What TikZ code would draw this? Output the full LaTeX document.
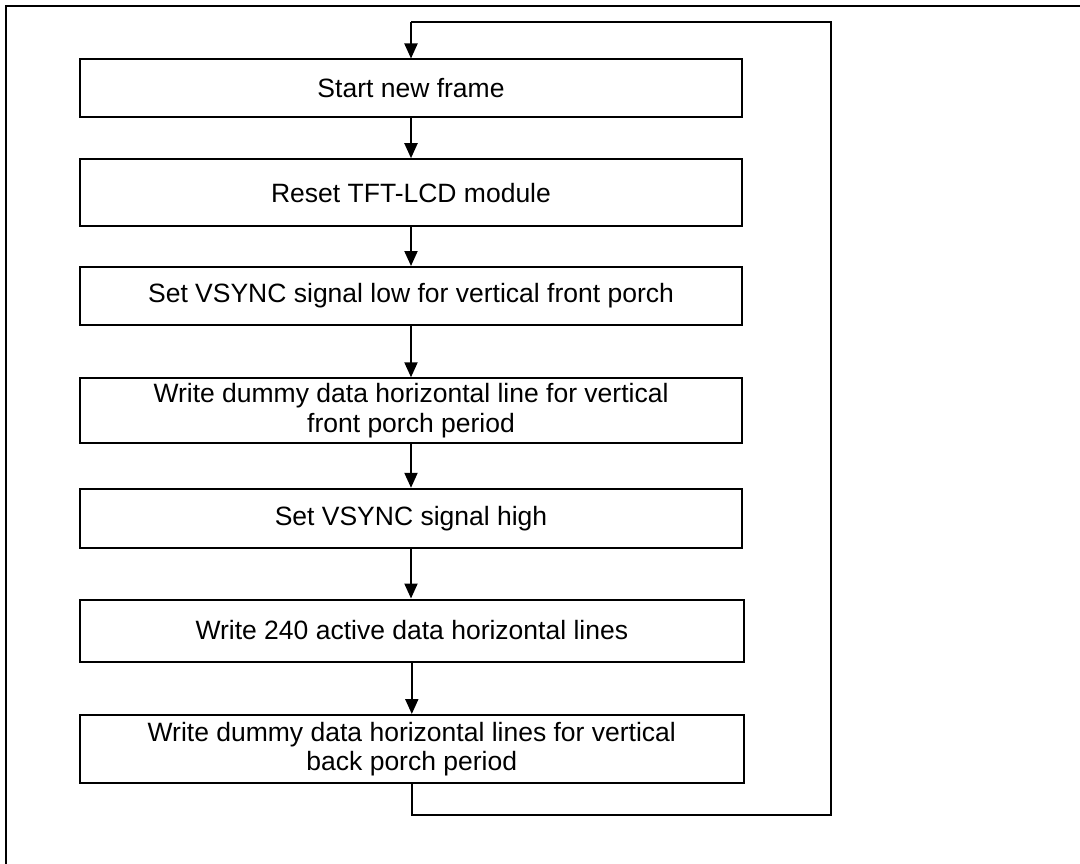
\documentclass[tikz,border=0pt]{standalone}
\usepackage{fontspec}
\setmainfont{Liberation Sans}
\usetikzlibrary{arrows.meta}
\begin{document}
\begin{tikzpicture}[x=1pt,y=-1pt,
  stepbox/.style={draw=black, line width=2pt, minimum width=662pt, inner sep=0pt,
    align=center, font=\fontsize{26.5}{29.5}\selectfont, text=black},
  flow/.style={line width=2pt, -{Triangle[width=13pt,length=15pt]}},
  wire/.style={line width=2pt}]
\useasboundingbox (0,0) rectangle (1080,864);
% outer frame (cut off at right and bottom)
\draw[line width=2pt] (1080,6) -- (6,6) -- (6,864);
\node[stepbox, minimum height=58pt] (b1) at (411,88.5) {Start new frame};
\node[stepbox, minimum height=67pt] (b2) at (411,192.7) {Reset TFT-LCD module};
\node[stepbox, minimum height=58pt] (b3) at (411,296) {Set VSYNC signal low for vertical front porch};
\node[stepbox, minimum height=65pt] (b4) at (411,410.8) {Write dummy data horizontal line for vertical\\front porch period};
\node[stepbox, minimum height=59pt] (b5) at (411,518.3) {Set VSYNC signal high};
\node[stepbox, minimum height=62pt, minimum width=664pt] (b6) at (411.8,630.5) {Write 240 active data horizontal lines};
\node[stepbox, minimum height=68pt, minimum width=664pt] (b7) at (411.8,749) {Write dummy data horizontal lines for vertical\\back porch period};
\draw[flow] (b1.south) -- (b2.north);
\draw[flow] (b2.south) -- (b3.north);
\draw[flow] (b3.south) -- (b4.north);
\draw[flow] (b4.south) -- (b5.north);
\draw[flow] (b5.south) -- (b5.south |- b6.north);
\draw[flow] (b6.south) -- (b7.north);
\coordinate (lb) at (411.8,815);
\coordinate (lr) at (830.7,815);
\coordinate (tr) at (830.7,22);
\coordinate (tl) at (411,22);
\draw[wire] (b7.south) -- (lb) -- (lr) -- (tr) -- (tl);
\draw[flow] (tl) -- (b1.north);
\end{tikzpicture}
\end{document}
